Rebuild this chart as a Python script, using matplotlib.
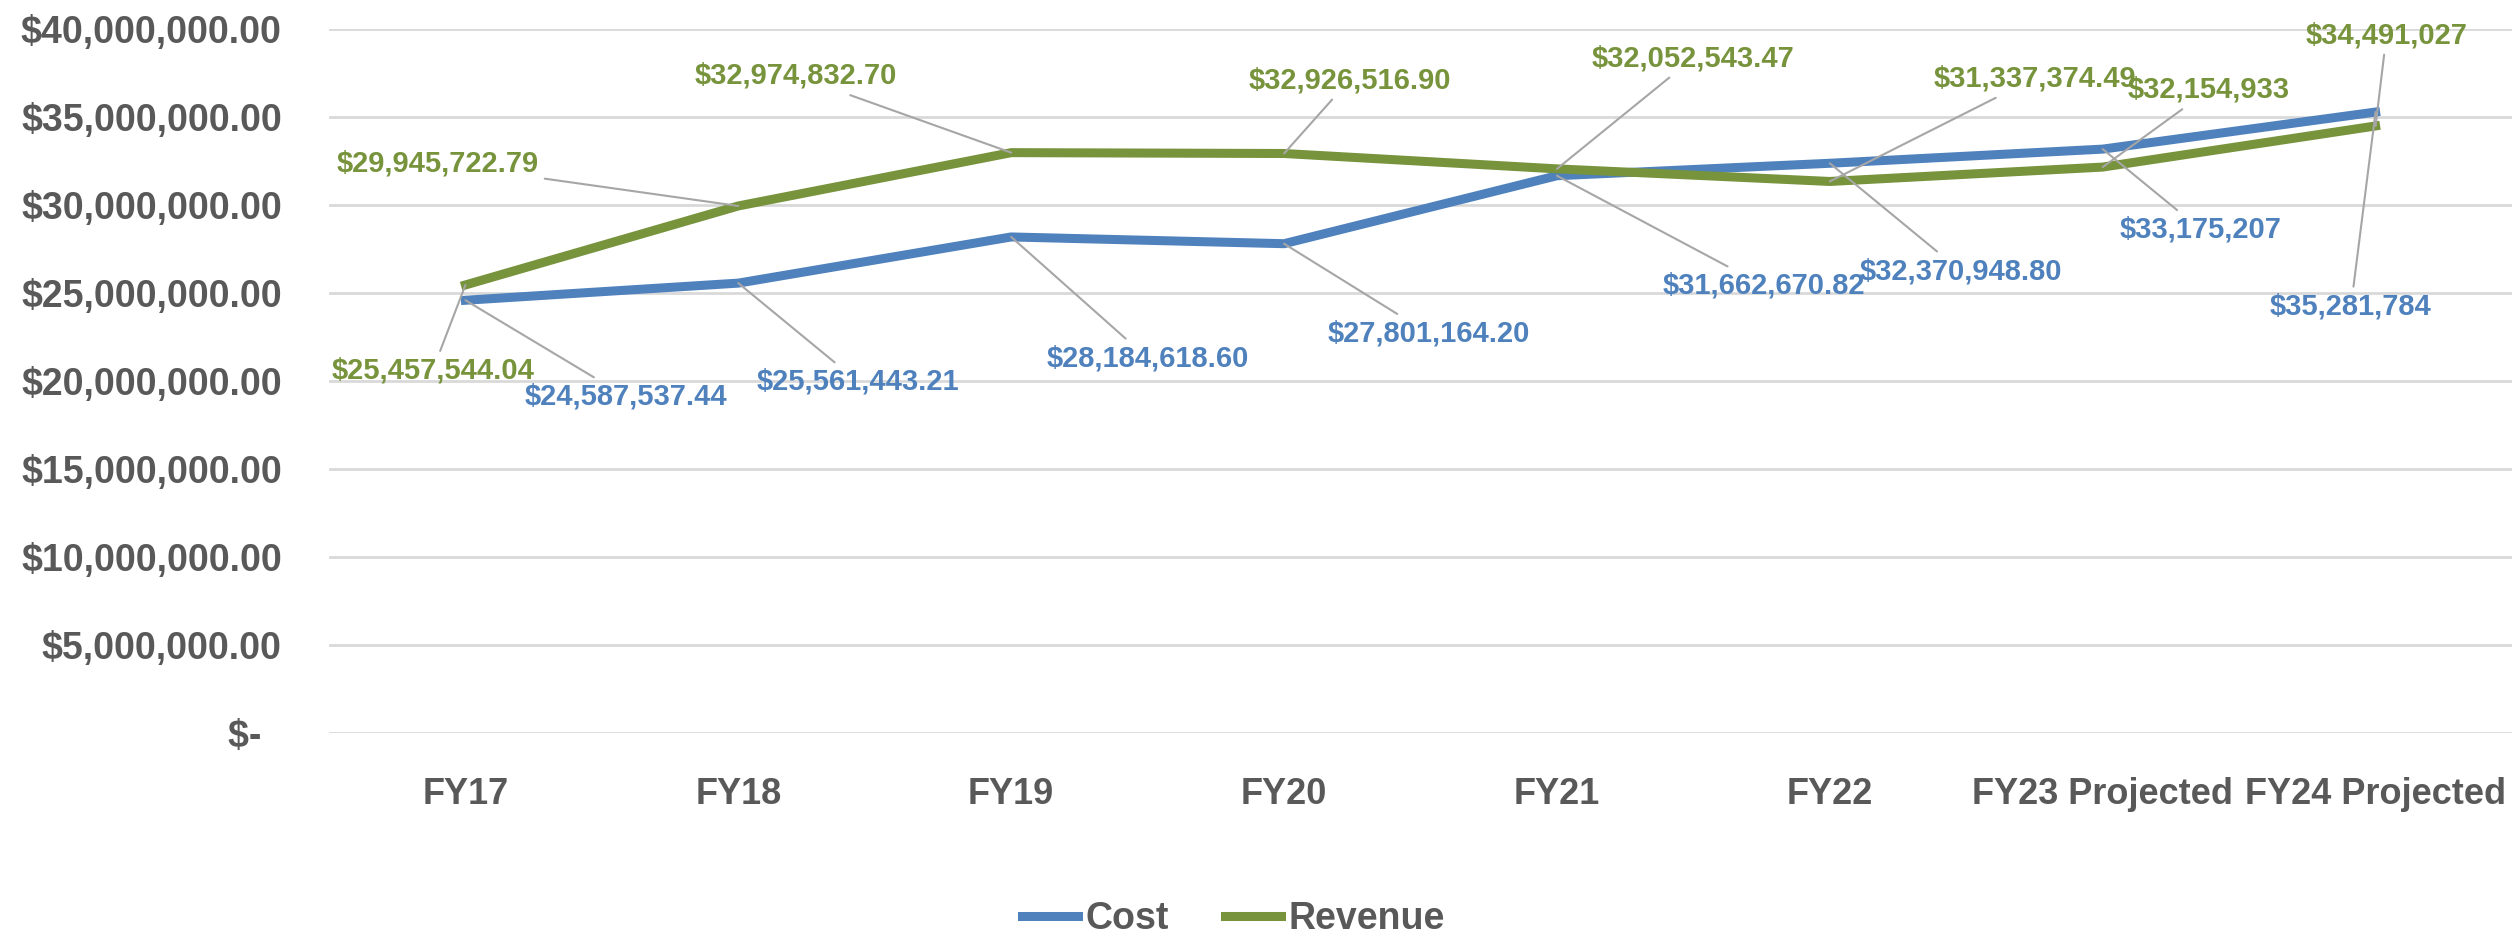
import matplotlib
matplotlib.use("Agg")
import matplotlib.pyplot as plt
from matplotlib.ticker import FuncFormatter

categories = ["FY17", "FY18", "FY19", "FY20", "FY21", "FY22", "FY23 Projected", "FY24 Projected"]
cost = [24587537.44, 25561443.21, 28184618.60, 27801164.20, 31662670.82, 32370948.80, 33175207, 35281784]
revenue = [25457544.04, 29945722.79, 32974832.70, 32926516.90, 32052543.47, 31337374.49, 32154933, 34491027]
cost_labels = ["$24,587,537.44", "$25,561,443.21", "$28,184,618.60", "$27,801,164.20",
               "$31,662,670.82", "$32,370,948.80", "$33,175,207", "$35,281,784"]
revenue_labels = ["$25,457,544.04", "$29,945,722.79", "$32,974,832.70", "$32,926,516.90",
                  "$32,052,543.47", "$31,337,374.49", "$32,154,933", "$34,491,027"]

# where the data labels sit (x in category units, y in dollars)
cost_lab_pos = [(0.59, 19.1e6), (1.44, 19.95e6), (2.5, 21.3e6), (3.53, 22.7e6),
                (4.76, 25.4e6), (5.48, 26.25e6), (6.36, 28.6e6), (6.91, 24.25e6)]
rev_lab_pos = [(-0.12, 20.6e6), (-0.1, 32.35e6), (1.21, 37.35e6), (3.24, 37.1e6),
               (4.5, 38.35e6), (5.75, 37.2e6), (6.39, 36.55e6), (7.04, 39.65e6)]

plt.rcParams['font.family'] = ['Liberation Sans', 'DejaVu Sans']
plt.rcParams['font.weight'] = 'bold'

BLUE = "#4F81BD"
GREEN = "#77933C"
GREY = "#595959"

fig = plt.figure(figsize=(25.17, 9.38), dpi=100)
ax = fig.add_axes([329 / 2517, 1 - 733 / 938, (2512 - 329) / 2517, (733 - 29) / 938])

x = list(range(len(categories)))
ax.plot(x, cost, color=BLUE, lw=6.5, label="Cost")
ax.plot(x, revenue, color=GREEN, lw=6.5, label="Revenue")

ax.set_xlim(-0.5, 7.5)
ax.set_ylim(0, 40e6)
ax.set_yticks(range(0, 40000001, 5000000))
ax.yaxis.set_major_formatter(FuncFormatter(lambda v, p: "$-  " if v == 0 else "${:,.2f}".format(v)))
ax.set_xticks(x)
ax.set_xticklabels(categories)
ax.tick_params(axis="both", length=0, labelsize=27, labelcolor=GREY)
ax.tick_params(axis="x", pad=32, labelsize=26)
ax.tick_params(axis="y", pad=34)
ax.grid(axis="y", color="#D9D9D9", lw=2)
ax.set_axisbelow(True)
for s in ax.spines.values():
    s.set_visible(False)

for vals, labs, pos, col in [(cost, cost_labels, cost_lab_pos, BLUE),
                             (revenue, revenue_labels, rev_lab_pos, GREEN)]:
    for i in range(len(vals)):
        ax.annotate(labs[i], xy=(i, vals[i]), xytext=pos[i], ha="center", va="center",
                    fontsize=21, fontweight="bold", color=col,
                    bbox=dict(fc="none", ec="none", pad=4),
                    arrowprops=dict(arrowstyle="-", color="#A6A6A6", lw=1.5,
                                    shrinkA=0, shrinkB=0))

fig.legend(loc="center", bbox_to_anchor=(0.49, 0.02), ncol=2, frameon=False,
           fontsize=27, labelcolor=GREY, handlelength=1.5, handletextpad=0.2,
           columnspacing=1.5)

fig.savefig("out.png", dpi=100)
